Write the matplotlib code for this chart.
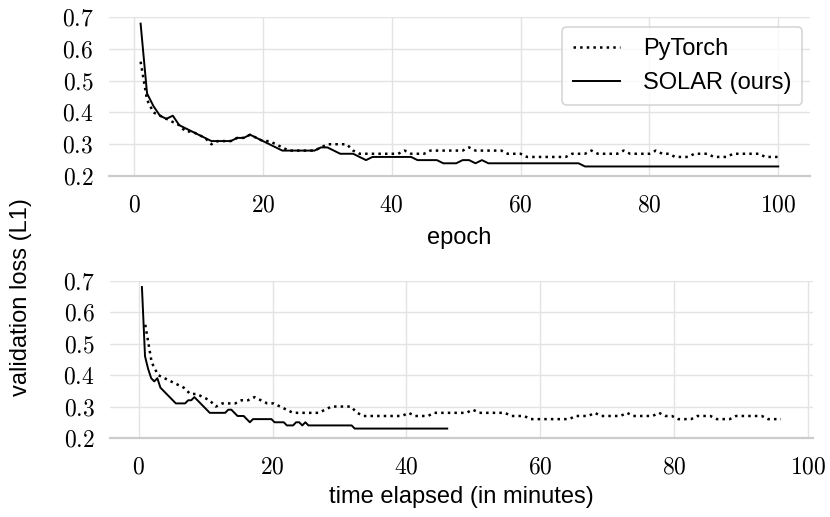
import numpy as np
import matplotlib
matplotlib.use("Agg")
from matplotlib import pyplot as plt
from matplotlib.ticker import FuncFormatter

plt.rcParams["mathtext.fontset"] = "cm"
plt.rcParams["font.family"] = ["Liberation Sans", "DejaVu Sans"]

# validation loss per epoch
epochs = np.arange(1, 101)
pytorch_loss = [
    0.56, 0.44, 0.40, 0.39, 0.38, 0.37, 0.36, 0.34, 0.34, 0.33,
    0.32, 0.30, 0.31, 0.31, 0.31, 0.32, 0.32, 0.33, 0.32, 0.31,
    0.31, 0.30, 0.29, 0.28, 0.28, 0.28, 0.28, 0.28, 0.29, 0.30,
    0.30, 0.30, 0.30, 0.28, 0.27, 0.27, 0.27, 0.27, 0.27, 0.27,
    0.27, 0.28, 0.27, 0.27, 0.27, 0.28, 0.28, 0.28, 0.28, 0.28,
    0.28, 0.29, 0.28, 0.28, 0.28, 0.28, 0.28, 0.27, 0.27, 0.27,
    0.26, 0.26, 0.26, 0.26, 0.26, 0.26, 0.26, 0.27, 0.27, 0.27,
    0.28, 0.27, 0.27, 0.27, 0.27, 0.28, 0.27, 0.27, 0.27, 0.27,
    0.28, 0.27, 0.27, 0.26, 0.26, 0.26, 0.27, 0.27, 0.27, 0.26,
    0.26, 0.26, 0.27, 0.27, 0.27, 0.27, 0.27, 0.26, 0.26, 0.26,
]
solar_loss = [
    0.68, 0.46, 0.42, 0.39, 0.38, 0.39, 0.36, 0.35, 0.34, 0.33,
    0.32, 0.31, 0.31, 0.31, 0.31, 0.32, 0.32, 0.33, 0.32, 0.31,
    0.30, 0.29, 0.28, 0.28, 0.28, 0.28, 0.28, 0.28, 0.29, 0.29,
    0.28, 0.27, 0.27, 0.27, 0.26, 0.25, 0.26, 0.26, 0.26, 0.26,
    0.26, 0.26, 0.26, 0.25, 0.25, 0.25, 0.25, 0.24, 0.24, 0.24,
    0.25, 0.25, 0.24, 0.25, 0.24, 0.24, 0.24, 0.24, 0.24, 0.24,
    0.24, 0.24, 0.24, 0.24, 0.24, 0.24, 0.24, 0.24, 0.24, 0.23,
    0.23, 0.23, 0.23, 0.23, 0.23, 0.23, 0.23, 0.23, 0.23, 0.23,
    0.23, 0.23, 0.23, 0.23, 0.23, 0.23, 0.23, 0.23, 0.23, 0.23,
    0.23, 0.23, 0.23, 0.23, 0.23, 0.23, 0.23, 0.23, 0.23, 0.23,
]
# total training time in minutes for the 100 epochs
pytorch_total_min = 96.0
solar_total_min = 46.1
pytorch_time = epochs / len(epochs) * pytorch_total_min
solar_time = epochs / len(epochs) * solar_total_min

yticks = [0.2, 0.3, 0.4, 0.5, 0.6, 0.7]
xticks = [0, 20, 40, 60, 80, 100]

fig = plt.figure(figsize=(8.3, 5.17), dpi=100)
ax1 = fig.add_axes([0.131, 0.6596, 0.845, 0.307])
ax2 = fig.add_axes([0.1325, 0.1528, 0.847, 0.3042])


def style(ax):
    ax.set_ylim(0.2, 0.7)
    ax.set_yticks(yticks)
    ax.set_xticks(xticks)
    ax.grid(True, color="#e3e3e3", linewidth=1.0)
    ax.set_axisbelow(True)
    for s in ["left", "right", "top"]:
        ax.spines[s].set_visible(False)
    ax.spines["bottom"].set_color("#cccccc")
    ax.spines["bottom"].set_linewidth(1.6)
    ax.tick_params(length=0, labelsize=17)
    ax.tick_params(axis="y", pad=11)
    ax.tick_params(axis="x", pad=13)
    ax.xaxis.set_major_formatter(FuncFormatter(lambda v, p: "$%d$" % v))
    ax.yaxis.set_major_formatter(FuncFormatter(lambda v, p: "$%.1f$" % v))


ax1.plot(epochs, pytorch_loss, ":", color="black", linewidth=1.8, label="PyTorch")
ax1.plot(epochs, solar_loss, "-", color="black", linewidth=1.4, label="SOLAR (ours)")
style(ax1)
ax1.set_xlabel("epoch", fontsize=17, labelpad=8)
leg = ax1.legend(loc="upper right", fontsize=17, handlelength=2.0,
                 handletextpad=1.0, frameon=True, fancybox=True,
                 borderpad=0.45, bbox_to_anchor=(1.006, 1.01))
leg.get_frame().set_edgecolor("#cccccc")
leg.get_frame().set_linewidth(1.2)

ax2.plot(pytorch_time, pytorch_loss, ":", color="black", linewidth=1.8)
ax2.plot(solar_time, solar_loss, "-", color="black", linewidth=1.4)
style(ax2)
ax2.set_xlabel("time elapsed (in minutes)", fontsize=17, labelpad=6)

fig.text(0.025, 1 - 297 / 517, "validation loss (L1)", rotation=90,
         va="center", ha="center", fontsize=17)

fig.savefig("out.png", dpi=100)
